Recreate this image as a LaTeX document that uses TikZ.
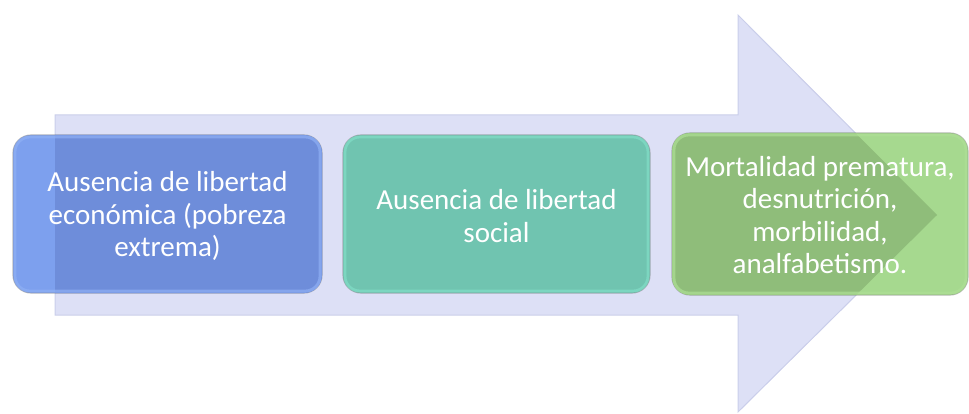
\documentclass[tikz,border=0pt]{standalone}
\usepackage{fontspec}
\setmainfont{Carlito}
\definecolor{arrowfill}{HTML}{DDE0F6}
\definecolor{arrowedge}{HTML}{CACEEA}
\definecolor{bluelight}{HTML}{7DA0EE}
\definecolor{bluedark}{HTML}{6E8DDA}
\definecolor{blueedge}{HTML}{8FB0F5}
\definecolor{tealdark}{HTML}{70C4B0}
\definecolor{tealedge}{HTML}{82DEC8}
\definecolor{greenlight}{HTML}{A6D98F}
\definecolor{greendark}{HTML}{8FBD7A}
\definecolor{greenedge}{HTML}{AEE096}
\begin{document}
\begin{tikzpicture}[x=1pt,y=1pt,
  boxshape/.style={rounded corners=18pt, minimum height=158pt, inner sep=0pt, draw=black!55, draw opacity=0.45, line width=1.2pt},
  rim/.style={rounded corners=15pt, line width=3pt, draw opacity=0.7},
  lbl/.style={text=white, align=center, font=\fontsize{29}{32.5}\selectfont, inner sep=0pt}]
\useasboundingbox (0,0) rectangle (969,413);
% background arrow
\def\arrowpath{(55,98) -- (55,298) -- (738,298) -- (738,398) -- (937,198) -- (738,1) -- (738,98) -- cycle}
\path[fill=arrowfill, draw=arrowedge, line width=1pt] \arrowpath;
% boxes
\node[boxshape, minimum width=309pt, fill=bluelight] (b1) at (167.5,199) {};
\node[boxshape, minimum width=307pt, fill=tealdark] (b2) at (496.5,199) {};
\node[boxshape, minimum width=296pt, minimum height=162pt, fill=greenlight] (b3) at (820,199) {};
% parts of boxes lying over the arrow are darker
\begin{scope}
  \clip \arrowpath;
  \fill[bluedark, rounded corners=18pt] ([shift={(0.6,0.6)}]b1.south west) rectangle ([shift={(-0.6,-0.6)}]b1.north east);
  \fill[greendark, rounded corners=18pt] ([shift={(0.6,0.6)}]b3.south west) rectangle ([shift={(-0.6,-0.6)}]b3.north east);
\end{scope}
% soft inner rims
\draw[rim, blueedge] ([shift={(2.5,2.5)}]b1.south west) rectangle ([shift={(-2.5,-2.5)}]b1.north east);
\draw[rim, tealedge] ([shift={(2.5,2.5)}]b2.south west) rectangle ([shift={(-2.5,-2.5)}]b2.north east);
\draw[rim, greenedge] ([shift={(2.5,2.5)}]b3.south west) rectangle ([shift={(-2.5,-2.5)}]b3.north east);
% labels
\node[lbl] (t1) at ([yshift=-2pt]b1.center) {Ausencia de libertad\\econ\'omica (pobreza\\extrema)};
\node[lbl] (t2) at ([yshift=-2pt]b2.center) {Ausencia de libertad\\social};
\node[lbl] (t3) at ([yshift=-1pt]b3.center) {Mortalidad prematura,\\desnutrici\'on,\\morbilidad,\\analfabetismo.};
\end{tikzpicture}
\end{document}
